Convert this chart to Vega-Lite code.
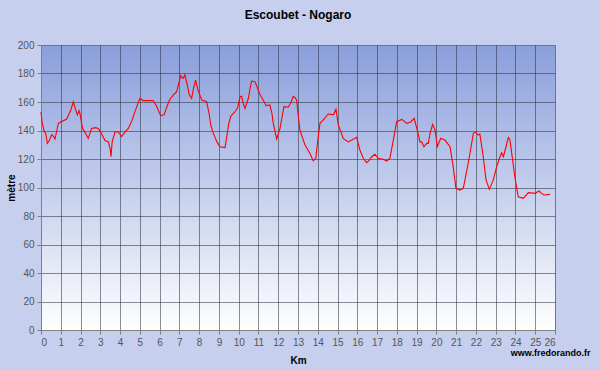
{
  "$schema": "https://vega.github.io/schema/vega-lite/v6.json",
  "width": 514,
  "height": 285,
  "autosize": {"type": "none"},
  "padding": {"left": 41, "top": 45, "right": 45, "bottom": 40},
  "background": "#c6cfee",
  "title": {"text": "Escoubet - Nogaro", "font": "Liberation Sans", "fontSize": 12, "fontWeight": "bold", "color": "#000000", "anchor": "middle", "offset": 18},
  "data": {"values": [
    {"km": 0, "elev": 153}, {"km": 0.05, "elev": 146}, {"km": 0.15, "elev": 140}, {"km": 0.25, "elev": 137}, {"km": 0.32, "elev": 131},
    {"km": 0.42, "elev": 133}, {"km": 0.54, "elev": 137}, {"km": 0.62, "elev": 136}, {"km": 0.71, "elev": 134}, {"km": 0.8, "elev": 140},
    {"km": 0.88, "elev": 145}, {"km": 1.0, "elev": 146}, {"km": 1.3, "elev": 148}, {"km": 1.5, "elev": 154}, {"km": 1.63, "elev": 160},
    {"km": 1.72, "elev": 156}, {"km": 1.84, "elev": 151}, {"km": 1.92, "elev": 154}, {"km": 1.97, "elev": 152}, {"km": 2.1, "elev": 141.5},
    {"km": 2.25, "elev": 138}, {"km": 2.39, "elev": 134.5}, {"km": 2.5, "elev": 139}, {"km": 2.56, "elev": 141.5}, {"km": 2.75, "elev": 142},
    {"km": 2.9, "elev": 141.5}, {"km": 3.05, "elev": 138}, {"km": 3.24, "elev": 133}, {"km": 3.41, "elev": 132}, {"km": 3.5, "elev": 127},
    {"km": 3.54, "elev": 121.6}, {"km": 3.6, "elev": 132}, {"km": 3.74, "elev": 139}, {"km": 3.91, "elev": 139}, {"km": 4.08, "elev": 135.7},
    {"km": 4.25, "elev": 139}, {"km": 4.42, "elev": 141.5}, {"km": 4.6, "elev": 147}, {"km": 4.8, "elev": 155}, {"km": 5.0, "elev": 162.6},
    {"km": 5.17, "elev": 161}, {"km": 5.4, "elev": 161}, {"km": 5.68, "elev": 161}, {"km": 5.85, "elev": 157}, {"km": 6.05, "elev": 150.4},
    {"km": 6.22, "elev": 151}, {"km": 6.35, "elev": 156}, {"km": 6.5, "elev": 161.4}, {"km": 6.7, "elev": 165}, {"km": 6.86, "elev": 167.3},
    {"km": 6.95, "elev": 172}, {"km": 7.07, "elev": 178.5}, {"km": 7.15, "elev": 177}, {"km": 7.2, "elev": 176.6}, {"km": 7.28, "elev": 179},
    {"km": 7.4, "elev": 172}, {"km": 7.5, "elev": 165}, {"km": 7.62, "elev": 162.6}, {"km": 7.72, "elev": 170}, {"km": 7.82, "elev": 175.4},
    {"km": 7.95, "elev": 168}, {"km": 8.13, "elev": 161.4}, {"km": 8.38, "elev": 160.2}, {"km": 8.5, "elev": 152}, {"km": 8.6, "elev": 143},
    {"km": 8.72, "elev": 138}, {"km": 8.9, "elev": 132}, {"km": 9.05, "elev": 128.6}, {"km": 9.31, "elev": 128}, {"km": 9.4, "elev": 136},
    {"km": 9.5, "elev": 145}, {"km": 9.6, "elev": 150}, {"km": 9.8, "elev": 153}, {"km": 9.95, "elev": 156}, {"km": 10.07, "elev": 163.7},
    {"km": 10.15, "elev": 164}, {"km": 10.25, "elev": 158}, {"km": 10.32, "elev": 155.5}, {"km": 10.49, "elev": 162.6}, {"km": 10.58, "elev": 170},
    {"km": 10.66, "elev": 174.7}, {"km": 10.82, "elev": 174.3}, {"km": 10.95, "elev": 170}, {"km": 11.08, "elev": 165}, {"km": 11.24, "elev": 161.4},
    {"km": 11.38, "elev": 157.4}, {"km": 11.58, "elev": 158}, {"km": 11.68, "elev": 152}, {"km": 11.75, "elev": 145}, {"km": 11.92, "elev": 134},
    {"km": 12.09, "elev": 141.5}, {"km": 12.2, "elev": 150}, {"km": 12.29, "elev": 156.7}, {"km": 12.51, "elev": 156.3}, {"km": 12.65, "elev": 160},
    {"km": 12.76, "elev": 164}, {"km": 12.85, "elev": 163}, {"km": 12.93, "elev": 161.4}, {"km": 13.0, "elev": 152}, {"km": 13.1, "elev": 140},
    {"km": 13.35, "elev": 130}, {"km": 13.6, "elev": 124}, {"km": 13.77, "elev": 118.8}, {"km": 13.9, "elev": 120.5}, {"km": 14.0, "elev": 133},
    {"km": 14.11, "elev": 145}, {"km": 14.28, "elev": 147.4}, {"km": 14.53, "elev": 151.6}, {"km": 14.79, "elev": 151}, {"km": 14.92, "elev": 154.9},
    {"km": 15.04, "elev": 143.9}, {"km": 15.29, "elev": 134.5}, {"km": 15.54, "elev": 132}, {"km": 15.72, "elev": 133.3}, {"km": 15.97, "elev": 135.2},
    {"km": 16.13, "elev": 126.3}, {"km": 16.3, "elev": 120.5}, {"km": 16.47, "elev": 117.4}, {"km": 16.6, "elev": 119}, {"km": 16.73, "elev": 121.6},
    {"km": 16.89, "elev": 123.3}, {"km": 17.06, "elev": 120.5}, {"km": 17.31, "elev": 119.8}, {"km": 17.49, "elev": 118.6}, {"km": 17.65, "elev": 120.5},
    {"km": 17.82, "elev": 133.3}, {"km": 17.99, "elev": 146.2}, {"km": 18.25, "elev": 147.8}, {"km": 18.5, "elev": 145}, {"km": 18.7, "elev": 146},
    {"km": 18.88, "elev": 148.6}, {"km": 19.05, "elev": 139.2}, {"km": 19.17, "elev": 132}, {"km": 19.26, "elev": 132}, {"km": 19.37, "elev": 128.6},
    {"km": 19.51, "elev": 131}, {"km": 19.59, "elev": 131}, {"km": 19.68, "elev": 138}, {"km": 19.81, "elev": 144.3}, {"km": 19.93, "elev": 140.4},
    {"km": 20.05, "elev": 128.6}, {"km": 20.22, "elev": 134.5}, {"km": 20.43, "elev": 133.3}, {"km": 20.69, "elev": 128.6}, {"km": 20.85, "elev": 114.6},
    {"km": 20.99, "elev": 99.4}, {"km": 21.19, "elev": 98.2}, {"km": 21.36, "elev": 99.4}, {"km": 21.61, "elev": 117}, {"km": 21.87, "elev": 138},
    {"km": 22.0, "elev": 138.7}, {"km": 22.12, "elev": 136.8}, {"km": 22.2, "elev": 137.5}, {"km": 22.37, "elev": 121.6}, {"km": 22.51, "elev": 105.3},
    {"km": 22.68, "elev": 98.7}, {"km": 22.88, "elev": 105.3}, {"km": 23.05, "elev": 114.6}, {"km": 23.22, "elev": 121.6}, {"km": 23.3, "elev": 124.4},
    {"km": 23.39, "elev": 121.6}, {"km": 23.52, "elev": 128.6}, {"km": 23.64, "elev": 135.2}, {"km": 23.72, "elev": 133.3}, {"km": 23.85, "elev": 120},
    {"km": 23.98, "elev": 106.4}, {"km": 24.14, "elev": 93.5}, {"km": 24.4, "elev": 92.4}, {"km": 24.65, "elev": 96.4}, {"km": 24.99, "elev": 95.9},
    {"km": 25.2, "elev": 97.5}, {"km": 25.3, "elev": 96}, {"km": 25.44, "elev": 94.7}, {"km": 25.75, "elev": 95.2}
  ]},
  "layer": [
    {
      "mark": {"type": "line", "color": "#ff0000", "strokeWidth": 1.1},
      "encoding": {
        "x": {"field": "km", "type": "quantitative", "scale": {"domain": [0, 26], "nice": false},
          "axis": {"values": [0,1,2,3,4,5,6,7,8,9,10,11,12,13,14,15,16,17,18,19,20,21,22,23,24,25,26], "title": "Km", "titlePadding": 8, "labelOverlap": false}},
        "y": {"field": "elev", "type": "quantitative", "scale": {"domain": [0, 200], "nice": false},
          "axis": {"values": [0,20,40,60,80,100,120,140,160,180,200], "title": "mètre", "titlePadding": 1, "labelOverlap": false}}
      }
    },
    {
      "mark": {"type": "line", "opacity": 0},
      "encoding": {
        "x": {"field": "km", "type": "quantitative",
          "axis": {"orient": "bottom", "title": "www.fredorando.fr", "labels": false, "ticks": false, "domain": false, "grid": false,
            "titleAnchor": "end", "titleAlign": "right", "titleX": 549, "titleY": 22, "titleBaseline": "middle", "titleFontSize": 9}},
        "y": {"field": "elev", "type": "quantitative",
          "axis": {"values": [0,20,40,60,80,100,120,140,160,180,200], "title": "mètre", "titlePadding": 1, "labelOverlap": false}}
      }
    }
  ],
  "resolve": {"axis": {"x": "independent"}},
  "config": {
    "view": {"fill": {"gradient": "linear", "x1": 0, "y1": 0, "x2": 0, "y2": 1, "stops": [{"offset": 0, "color": "#8a9edb"}, {"offset": 1, "color": "#ffffff"}]}, "stroke": "#cccccc", "strokeWidth": 1},
    "axis": {
      "labelFont": "Liberation Sans", "labelFontSize": 10, "labelColor": "#555555",
      "titleFont": "Liberation Sans", "titleFontSize": 10, "titleFontWeight": "bold", "titleColor": "#000000",
      "gridColor": "#2a2f40", "gridOpacity": 0.55, "gridWidth": 1,
      "domainColor": "#808080", "tickColor": "#808080", "tickSize": 4, "labelPadding": 3
    }
  }
}
